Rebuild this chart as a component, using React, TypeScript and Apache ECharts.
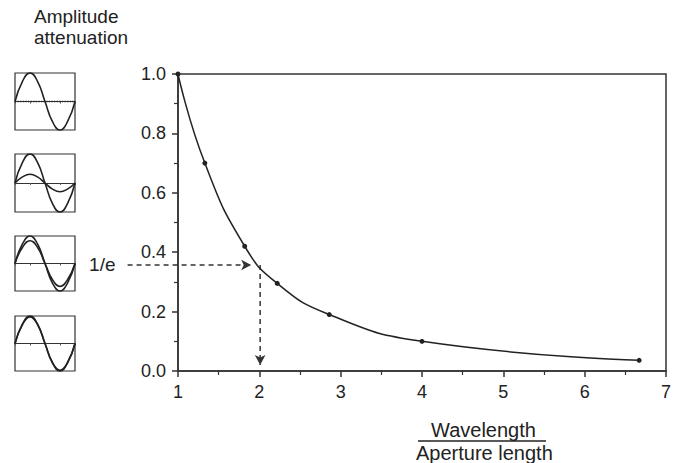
import React, { useEffect, useRef } from "react";
import * as echarts from "echarts";

// Main curve: ratio wavelength / aperture length vs amplitude attenuation
const ratio = [1, 1.33, 1.82, 2.22, 2.86, 4, 6.67];
const attenuation = [1.0, 0.7, 0.42, 0.295, 0.19, 0.1, 0.036];

// 1/e guide
const eLevel = 0.357;
const eRatio = 2.01;
const guideStart = 0.38;
const guideArrowX = 1.9;
const guideArrowY = 0.02;
const eLabel = "1/e";

// Inset waves (one period)
const insetPhase = [0, 0.125, 0.25, 0.375, 0.5, 0.625, 0.75, 0.875, 1];
const fullWave = [0, 0.71, 1, 0.71, 0, -0.71, -1, -0.71, 0];
const attenuatedWaves = [
  [0, 0, 0, 0, 0, 0, 0, 0, 0],
  [0, 0.21, 0.3, 0.21, 0, -0.21, -0.3, -0.21, 0],
  [0, 0.59, 0.83, 0.59, 0, -0.59, -0.83, -0.59, 0],
  [0, 0.69, 0.97, 0.69, 0, -0.69, -0.97, -0.69, 0],
];

const titleText = "Amplitude\nattenuation";
const xNameTop = "Wavelength";
const xNameBottom = "Aperture length";

const FONT = "'Liberation Sans', Arial, Helvetica, sans-serif";
const INK = "#222";

const insetTops = [73, 154, 236, 316];
const insetHeights = [57, 58, 55, 55];

const PLOT_LEFT = 178;
const PLOT_WIDTH = 488;
const X_MIN = 1;
const X_MAX = 7;

export default function App() {
  const ref = useRef<HTMLDivElement>(null);
  useEffect(() => {
    if (!ref.current) return;
    const chart = echarts.init(ref.current, null, { renderer: "svg" });

    const pxPerUnit = PLOT_WIDTH / (X_MAX - X_MIN);
    const guideLeft = PLOT_LEFT - (X_MIN - guideStart) * pxPerUnit;

    const grids: any[] = [
      {
        left: PLOT_LEFT,
        top: 74,
        width: PLOT_WIDTH,
        height: 297,
        show: true,
        borderColor: "#333",
        borderWidth: 1.5,
        backgroundColor: "transparent",
      },
      {
        left: guideLeft,
        top: 74,
        width: PLOT_WIDTH + (X_MIN - guideStart) * pxPerUnit,
        height: 297,
        show: false,
      },
    ];
    const xAxes: any[] = [
      {
        type: "value",
        gridIndex: 0,
        min: X_MIN,
        max: X_MAX,
        interval: 1,
        axisLine: { show: true, lineStyle: { color: "#333", width: 1.5 } },
        axisTick: { show: true, length: 6, inside: false, lineStyle: { color: "#333", width: 1.5 } },
        minorTick: { show: true, splitNumber: 2, length: 4, lineStyle: { color: "#333", width: 1.2 } },
        splitLine: { show: false },
        axisLabel: { color: INK, fontSize: 18, margin: 12, fontFamily: FONT },
      },
      {
        type: "value",
        gridIndex: 1,
        min: guideStart,
        max: X_MAX,
        show: false,
      },
    ];
    const yAxes: any[] = [
      {
        type: "value",
        gridIndex: 0,
        min: 0,
        max: 1,
        interval: 0.2,
        axisLine: { show: true, lineStyle: { color: "#333", width: 1.5 } },
        axisTick: { show: true, length: 6, inside: false, lineStyle: { color: "#333", width: 1.5 } },
        minorTick: { show: true, splitNumber: 2, length: 4, lineStyle: { color: "#333", width: 1.2 } },
        splitLine: { show: false },
        axisLabel: {
          color: INK,
          fontSize: 18,
          margin: 12,
          fontFamily: FONT,
          formatter: (v: number) => v.toFixed(1),
        },
      },
      {
        type: "value",
        gridIndex: 1,
        min: 0,
        max: 1,
        show: false,
      },
    ];

    const series: any[] = [
      {
        type: "line",
        xAxisIndex: 0,
        yAxisIndex: 0,
        data: ratio.map((x, i) => [x, attenuation[i]]),
        smooth: 0.5,
        symbol: "circle",
        symbolSize: 5,
        lineStyle: { color: INK, width: 1.5 },
        itemStyle: { color: INK },
        clip: false,
        z: 5,
      },
      {
        type: "line",
        xAxisIndex: 1,
        yAxisIndex: 1,
        lineStyle: { color: "#333", width: 1.5, type: [5, 4] },
        itemStyle: { color: "#333" },
        data: [
          {
            value: [guideStart, eLevel],
            symbol: "circle",
            symbolSize: 0.1,
            label: {
              show: true,
              position: "left",
              distance: 12,
              formatter: eLabel,
              color: INK,
              fontSize: 19,
              fontFamily: FONT,
            },
          },
          {
            value: [guideArrowX, eLevel],
            symbol: "arrow",
            symbolRotate: -90,
            symbolSize: [8, 10],
          },
        ],
        z: 4,
      },
      {
        type: "line",
        xAxisIndex: 1,
        yAxisIndex: 1,
        lineStyle: { color: "#333", width: 1.5, type: [5, 4] },
        itemStyle: { color: "#333" },
        data: [
          { value: [eRatio, eLevel], symbol: "none" },
          {
            value: [eRatio, guideArrowY],
            symbol: "arrow",
            symbolRotate: 180,
            symbolSize: [8, 10],
          },
        ],
        z: 4,
      },
    ];

    attenuatedWaves.forEach((wave, k) => {
      const gi = k + 2;
      grids.push({
        left: 15,
        top: insetTops[k],
        width: 60,
        height: insetHeights[k],
        show: true,
        borderColor: "#333",
        borderWidth: 1.2,
        backgroundColor: "transparent",
      });
      xAxes.push({
        type: "value",
        gridIndex: gi,
        min: 0,
        max: 1,
        interval: 0.25,
        axisLine: { show: true, lineStyle: { color: "#333", width: 1.2 } },
        axisTick: { show: true, length: 2, lineStyle: { color: "#555", width: 1 } },
        axisLabel: { show: false },
        splitLine: { show: false },
      });
      yAxes.push({
        type: "value",
        gridIndex: gi,
        min: -1,
        max: 1,
        axisLine: { show: false },
        axisTick: { show: false },
        axisLabel: { show: false },
        splitLine: { show: false },
      });
      series.push({
        type: "line",
        xAxisIndex: gi,
        yAxisIndex: gi,
        data: insetPhase.map((p, i) => [p, fullWave[i]]),
        smooth: 0.5,
        symbol: "none",
        clip: false,
        lineStyle: { color: INK, width: 1.6 },
      });
      series.push({
        type: "line",
        xAxisIndex: gi,
        yAxisIndex: gi,
        data: insetPhase.map((p, i) => [p, wave[i]]),
        smooth: 0.5,
        symbol: "none",
        clip: false,
        lineStyle: { color: INK, width: k === 0 ? 1.3 : 1.6, type: k === 0 ? "dotted" : "solid" },
      });
    });

    chart.setOption({
      animation: false,
      backgroundColor: "#fff",
      title: {
        text: titleText,
        left: 29,
        top: 1,
        textStyle: {
          fontSize: 19,
          fontWeight: "normal",
          color: INK,
          lineHeight: 21,
          fontFamily: FONT,
        },
      },
      grid: grids,
      xAxis: xAxes,
      yAxis: yAxes,
      series,
      graphic: [
        {
          type: "text",
          left: 431,
          top: 420,
          style: { text: xNameTop, fontSize: 20, fill: INK, fontFamily: FONT },
        },
        {
          type: "line",
          shape: { x1: 418, y1: 441, x2: 546, y2: 441 },
          style: { stroke: INK, lineWidth: 1.5 },
        },
        {
          type: "text",
          left: 416,
          top: 443,
          style: { text: xNameBottom, fontSize: 20, fill: INK, fontFamily: FONT },
        },
      ],
    });
    return () => chart.dispose();
  }, []);
  return (
    <div
      ref={ref}
      style={{ position: "fixed", left: 0, top: 0, width: 679, height: 463 }}
    />
  );
}
